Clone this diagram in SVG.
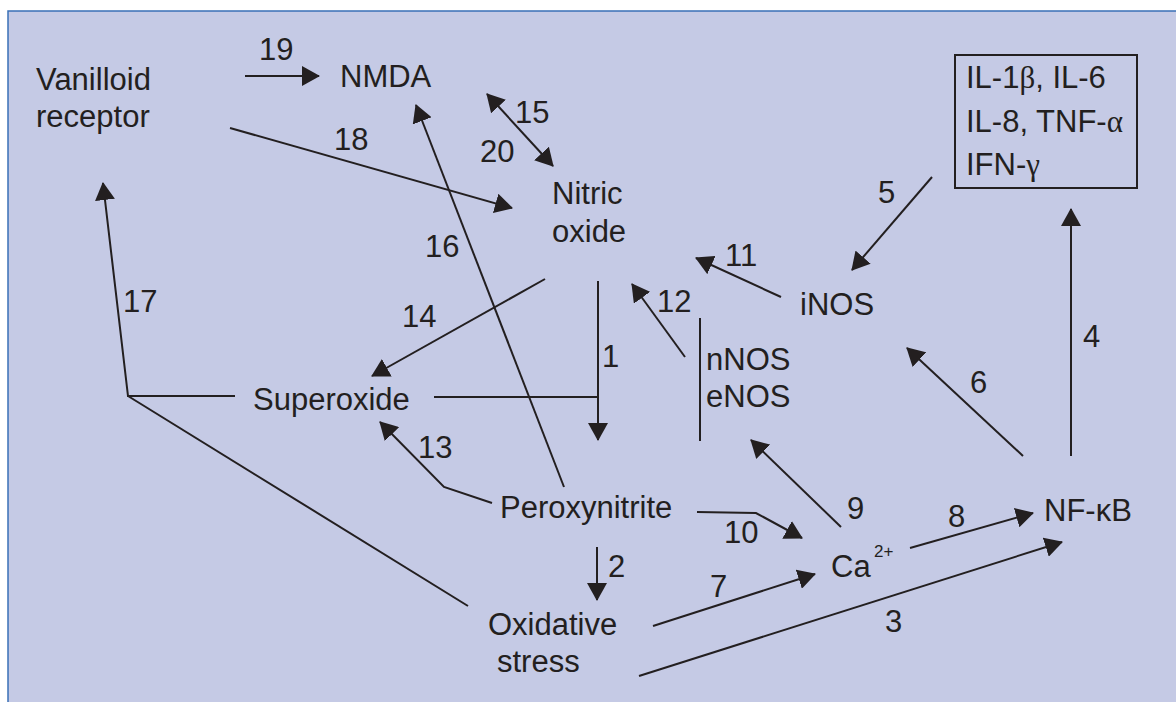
<svg xmlns="http://www.w3.org/2000/svg" width="1176" height="702" viewBox="0 0 1176 702">
<style>
text{font-family:"Liberation Sans",Arial,sans-serif;font-size:31px;fill:#231f20}
.g{font-family:"Liberation Serif","Times New Roman",serif}
.lbl{font-size:31px}
.sup{font-size:17px}
.c line,.c path,.c polyline{stroke:#231f20;stroke-width:2;fill:none}
.a{marker-end:url(#ah)}
</style>
<defs>
<marker id="ah" viewBox="0 0 18 20" refX="17" refY="10" markerWidth="18" markerHeight="20" markerUnits="userSpaceOnUse" orient="auto-start-reverse">
<path d="M0,0 L18,10 L0,20 z" fill="#231f20"/>
</marker>
</defs>
<rect x="8" y="11" width="1200" height="720" fill="#c5cae5" stroke="#3a70b6" stroke-width="1.5"/>
<g class="c" id="connectors">
<line class="a" x1="245" y1="76" x2="319" y2="76"/>
<line class="a" x1="230" y1="128" x2="512" y2="208"/>
<polyline class="a" points="235,396 128,396 103,183"/>
<line x1="128" y1="396" x2="468" y2="606"/>
<line class="a" x1="564" y1="487" x2="416" y2="105"/>
<line x1="487" y1="94" x2="553" y2="166" style="marker-start:url(#ah);marker-end:url(#ah)"/>
<line class="a" x1="545" y1="279" x2="372" y2="376"/>
<line class="a" x1="598" y1="281" x2="598" y2="440"/>
<line x1="434" y1="397" x2="598" y2="397"/>
<polyline class="a" points="492,503 444,487 380,422"/>
<line class="a" x1="685" y1="357" x2="632" y2="284"/>
<line class="a" x1="781" y1="297" x2="696" y2="258"/>
<line x1="700" y1="318" x2="700" y2="441"/>
<line class="a" x1="932" y1="177" x2="852" y2="270"/>
<line class="a" x1="1023" y1="456" x2="907" y2="348"/>
<line class="a" x1="1071" y1="456" x2="1071" y2="209"/>
<line class="a" x1="841" y1="527" x2="751" y2="440"/>
<polyline class="a" points="697,512 756,513 802,538"/>
<line class="a" x1="910" y1="548" x2="1033" y2="513"/>
<line class="a" x1="653" y1="626" x2="815" y2="574"/>
<line class="a" x1="639" y1="676" x2="1062" y2="542"/>
<line class="a" x1="597" y1="547" x2="597" y2="600"/>
</g>
<g id="labels">
<text x="259" y="60">19</text>
<text x="334" y="150">18</text>
<text x="123" y="312">17</text>
<text x="425" y="257">16</text>
<text x="515" y="123">15</text>
<text x="480" y="162">20</text>
<text x="402" y="327">14</text>
<text x="602" y="367">1</text>
<text x="657" y="312">12</text>
<text x="725" y="266">11</text>
<text x="418" y="458">13</text>
<text x="878" y="203">5</text>
<text x="970" y="393">6</text>
<text x="1083" y="347">4</text>
<text x="847" y="519">9</text>
<text x="724" y="543">10</text>
<text x="948" y="527">8</text>
<text x="710" y="597">7</text>
<text x="885" y="632">3</text>
<text x="608" y="577">2</text>
</g>
<g id="vanilloid"><text x="36" y="90">Vanilloid</text><text x="36" y="127">receptor</text></g>
<g id="nmda"><text x="340" y="87">NMDA</text></g>
<g id="nitric-oxide"><text x="552" y="204">Nitric</text><text x="552" y="242">oxide</text></g>
<g id="cytokines"><rect x="955" y="55" width="182" height="133" fill="none" stroke="#231f20" stroke-width="2"/>
<text x="966" y="88">IL-1<tspan class="g">β</tspan>, IL-6</text>
<text x="966" y="132">IL-8, TNF-<tspan class="g">α</tspan></text>
<text x="966" y="175">IFN-<tspan class="g">γ</tspan></text></g>
<g id="inos"><text x="800" y="315">iNOS</text></g>
<g id="superoxide"><text x="253" y="410">Superoxide</text></g>
<g id="nos"><text x="706" y="370">nNOS</text><text x="706" y="407">eNOS</text></g>
<g id="peroxynitrite"><text x="500" y="518">Peroxynitrite</text></g>
<g id="oxidative-stress"><text x="488" y="635">Oxidative</text><text x="497" y="672">stress</text></g>
<g id="calcium"><text x="831" y="577">Ca</text><text class="sup" x="874" y="557">2+</text></g>
<g id="nfkb"><text x="1044" y="521">NF-κB</text></g>
</svg>
